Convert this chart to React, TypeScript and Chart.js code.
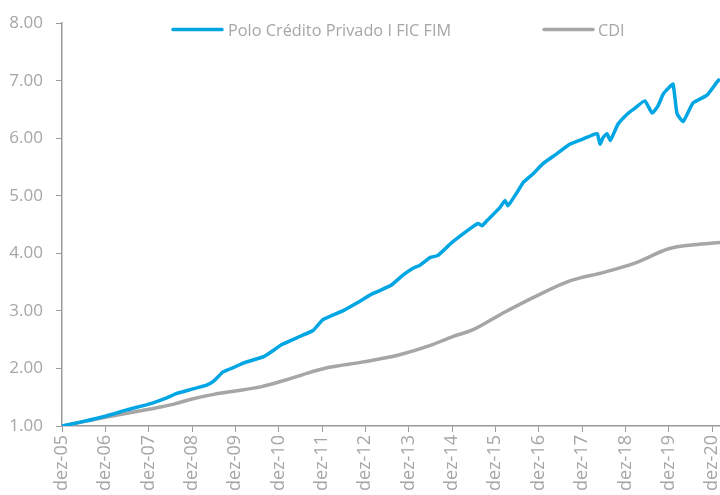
import React, { useEffect, useRef } from "react";
import { Chart, registerables } from "chart.js";

Chart.register(...registerables);

// Months since Dec-2005
const fundMonths = [0, 6, 12, 18, 24, 29, 32, 36, 40, 42, 44.6, 48, 50, 56, 61, 66, 69.5, 72.3, 78, 82, 86, 91, 94.4, 97.2, 99, 102, 104, 108, 113, 115.2, 116.3, 117.7, 121.3, 122.7, 123.5, 126, 127.7, 130.4, 133.2, 137, 140.7, 144.3, 147, 148.2, 149, 149.8, 150.9, 151.8, 153.1, 154, 156.7, 158.6, 161.4, 163.4, 165, 166.5, 167.9, 169.2, 170.3, 172, 174.7, 178.6, 181.4, 182.2];
const fundValues = [1.0, 1.08, 1.17, 1.28, 1.38, 1.49, 1.57, 1.64, 1.71, 1.78, 1.94, 2.03, 2.09, 2.21, 2.42, 2.56, 2.66, 2.85, 3.01, 3.15, 3.3, 3.44, 3.62, 3.74, 3.79, 3.93, 3.96, 4.19, 4.43, 4.52, 4.48, 4.57, 4.8, 4.92, 4.83, 5.06, 5.23, 5.38, 5.56, 5.73, 5.9, 5.99, 6.06, 6.08, 5.9, 6.01, 6.08, 5.96, 6.13, 6.25, 6.43, 6.52, 6.65, 6.44, 6.56, 6.77, 6.87, 6.94, 6.43, 6.29, 6.61, 6.75, 6.98, 7.03];

const cdiMonths = [0, 12, 24, 31, 36, 42, 48, 55, 62, 68, 74, 83, 93, 102, 108, 114, 122, 132, 141, 150, 159, 168, 175, 182.2];
const cdiValues = [1.0, 1.15, 1.29, 1.38, 1.47, 1.55, 1.61, 1.68, 1.8, 1.92, 2.02, 2.11, 2.23, 2.4, 2.55, 2.68, 2.96, 3.28, 3.53, 3.67, 3.84, 4.08, 4.15, 4.19];

const xTickLabels = ["dez-05", "dez-06", "dez-07", "dez-08", "dez-09", "dez-10", "dez-11", "dez-12", "dez-13", "dez-14", "dez-15", "dez-16", "dez-17", "dez-18", "dez-19", "dez-20"];
const seriesNames = ["Polo Crédito Privado I FIC FIM", "CDI"];
const seriesColors = ["#00A5E3", "#A6A6A6"];

const FONT = "'Open Sans', 'Noto Sans', sans-serif";
const TEXT_COLOR = "#A6A6A6";
const AXIS_COLOR = "#9A9A9A";

const legendPlugin = {
  id: "overlayLegend",
  afterDraw(chart: any) {
    const ctx = chart.ctx;
    const items = [
      { lineX: 173, textX: 228 },
      { lineX: 544, textX: 598 },
    ];
    ctx.save();
    ctx.font = `16.3px ${FONT}`;
    ctx.textBaseline = "alphabetic";
    chart.data.datasets.forEach((ds: any, i: number) => {
      const it = items[i];
      ctx.strokeStyle = ds.borderColor;
      ctx.lineWidth = ds.borderWidth;
      ctx.lineCap = "round";
      ctx.beginPath();
      ctx.moveTo(it.lineX, 29.5);
      ctx.lineTo(it.lineX + 49, 29.5);
      ctx.stroke();
      ctx.fillStyle = TEXT_COLOR;
      ctx.fillText(ds.label, it.textX, 36);
    });
    ctx.restore();
  },
};

export default function App() {
  const ref = useRef<HTMLCanvasElement | null>(null);
  useEffect(() => {
    if (!ref.current) return;
    const chart = new Chart(ref.current, {
      type: "line",
      data: {
        datasets: [
          {
            label: seriesNames[0],
            data: fundMonths.map((m, i) => ({ x: m, y: fundValues[i] })),
            borderColor: seriesColors[0],
            backgroundColor: seriesColors[0],
            borderWidth: 3.5,
            pointRadius: 0,
            tension: 0.15,
          },
          {
            label: seriesNames[1],
            data: cdiMonths.map((m, i) => ({ x: m, y: cdiValues[i] })),
            borderColor: seriesColors[1],
            backgroundColor: seriesColors[1],
            borderWidth: 3.5,
            pointRadius: 0,
            cubicInterpolationMode: "monotone",
          },
        ],
      },
      options: {
        animation: false,
        responsive: true,
        maintainAspectRatio: false,
        layout: { padding: { top: 22, right: 0, left: 0, bottom: 0 } },
        plugins: {
          legend: { display: false },
          tooltip: { enabled: false },
        },
        scales: {
          x: {
            type: "linear",
            min: 0,
            max: 182.2,
            grid: { display: true, drawOnChartArea: false, drawTicks: true, tickLength: 6, color: AXIS_COLOR },
            border: { display: true, color: AXIS_COLOR, width: 1.5 },
            afterBuildTicks: (axis: any) => {
              axis.ticks = xTickLabels.map((_, i) => ({ value: i * 12 }));
            },
            afterFit: (axis: any) => {
              axis.height = 69;
              axis.paddingLeft = 0;
              axis.paddingRight = 0;
            },
            ticks: {
              autoSkip: false,
              maxRotation: 90,
              minRotation: 90,
              padding: 3,
              color: TEXT_COLOR,
              font: { family: FONT, size: 18 },
              callback: (v: any) => xTickLabels[Math.round(Number(v) / 12)] ?? "",
            },
          },
          y: {
            min: 1,
            max: 8,
            grid: { display: true, drawOnChartArea: false, drawTicks: true, tickLength: 6, color: AXIS_COLOR },
            border: { display: true, color: AXIS_COLOR, width: 1.5 },
            afterFit: (axis: any) => {
              axis.width = 62;
            },
            ticks: {
              stepSize: 1,
              padding: 13,
              color: TEXT_COLOR,
              font: { family: FONT, size: 17 },
              callback: (v: any) => Number(v).toFixed(2),
            },
          },
        },
      },
      plugins: [legendPlugin],
    });
    return () => chart.destroy();
  }, []);
  return (
    <div style={{ position: "fixed", left: 0, top: 0, width: 720, height: 495, background: "#fff" }}>
      <canvas ref={ref} />
    </div>
  );
}
